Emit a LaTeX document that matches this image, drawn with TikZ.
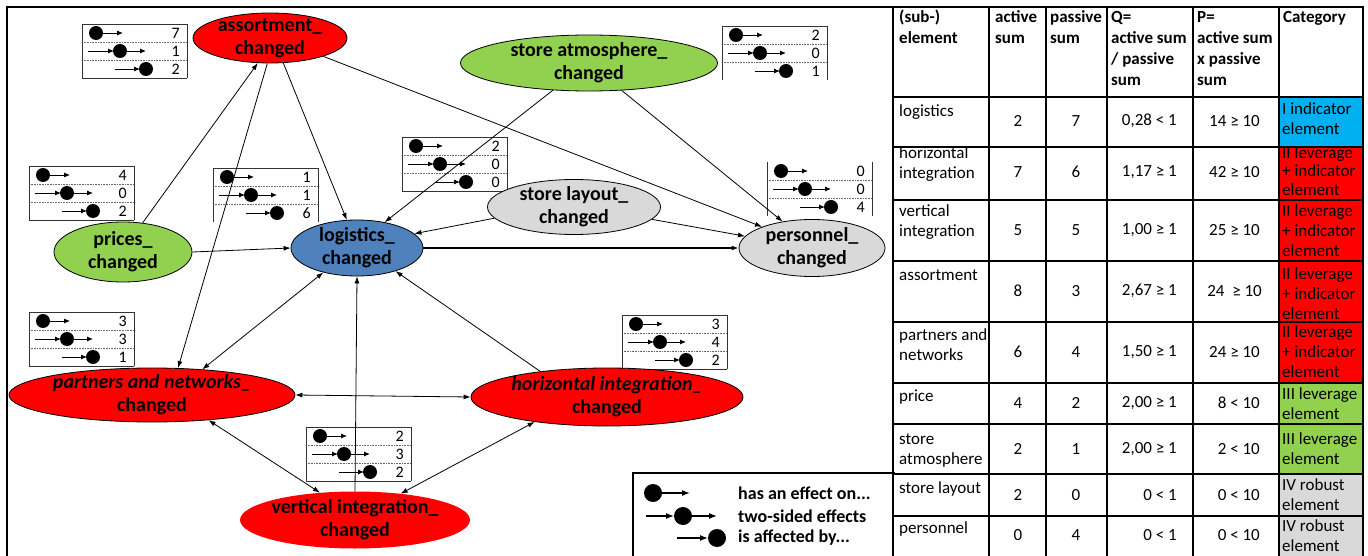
\documentclass[tikz,border=0pt]{standalone}
\usepackage{fontspec}
\setmainfont{Carlito}
\usetikzlibrary{shapes.geometric,arrows.meta}
\definecolor{cred}{HTML}{FF0000}
\definecolor{cgreen}{HTML}{92D050}
\definecolor{cblue}{HTML}{4F81BD}
\definecolor{cgray}{HTML}{D9D9D9}
\definecolor{ccyan}{HTML}{00B0F0}
\newcommand\cbbody[3]{%
  \draw[sepl] (0,18) -- (105,18) (0,36) -- (105,36);
  \draw[bx] (0,0) -- (0,54) (105,0) -- (105,54);
  \fill (14,9) circle[radius=7];
  \draw[sa] (14,9) -- (41,9);
  \draw[sa] (6,27) -- (32,27);
  \fill (38,27) circle[radius=7];
  \draw[sa] (38,27) -- (64,27);
  \draw[sa] (33,45) -- (58,45);
  \fill (64,45) circle[radius=7];
  \node[num] (-n1) at (98,9) {#1};
  \node[num] (-n2) at (98,27) {#2};
  \node[num] (-n3) at (98,45) {#3};
}
\tikzset{
  ell/.style={ellipse, draw=black, line width=0.8pt, inner sep=0pt},
  lbl/.style={font=\bfseries\fontsize{20}{23}\selectfont, align=center, inner sep=0pt},
  ed/.style={line width=0.8pt, -{Latex[length=7pt,width=5pt]}},
  bi/.style={line width=0.8pt, {Latex[length=7pt,width=5pt]}-{Latex[length=7pt,width=5pt]}},
  sepl/.style={densely dotted, black!60, line width=0.6pt},
  bx/.style={line width=0.8pt, black!80},
  sa/.style={line width=0.9pt, -{Latex[length=6pt,width=5pt]}},
  num/.style={anchor=east, inner sep=0pt, font=\fontsize{16}{18}\selectfont},
  pics/cbox/.style n args={3}{code={\cbbody{#1}{#2}{#3}\draw[bx] (0,0) -- (105,0) (0,54) -- (105,54);}},
  pics/cboxnb/.style n args={3}{code={\cbbody{#1}{#2}{#3}\draw[bx] (0,0) -- (105,0);}},
  pics/cboxs/.style n args={3}{code={\cbbody{#1}{#2}{#3}}},
  tc/.style={anchor=north west, inner sep=0pt, align=left, font=\fontsize{17}{20}\selectfont},
  th/.style={tc, font=\bfseries\fontsize{17}{21}\selectfont},
  tn/.style={anchor=center, inner sep=0pt, font=\fontsize{17}{20}\selectfont},
  tr/.style={anchor=east, inner sep=0pt, font=\fontsize{17}{20}\selectfont},
  lg/.style={anchor=west, inner sep=0pt, font=\bfseries\fontsize{18}{22}\selectfont},
  la/.style={line width=1.3pt, -{Latex[length=8pt,width=6pt]}},
}
\newcommand\st{\rule{0pt}{14pt}}
\begin{document}
\begin{tikzpicture}[x=1pt,y=-1pt]
\useasboundingbox (0,0) rectangle (1368,556);
\fill[white] (0,0) rectangle (1368,556);
% frame of the left panel
\draw[line width=1.6pt] (7,556) -- (7,7) -- (893,7);

% count boxes
\pic (bAs) at (82,24) {cbox={7}{1}{2}};
\pic (bPr) at (29,166) {cbox={4}{0}{2}};
\pic (bLo) at (213,168) {cboxnb={1}{1}{6}};
\pic (bLa) at (402,137) {cbox={2}{0}{0}};
\pic (bAt) at (722,26) {cboxnb={2}{0}{1}};
\pic (bPe) at (767,162) {cboxs={0}{0}{4}};
\pic (bPa) at (29,312) {cbox={3}{3}{1}};
\pic (bHo) at (622,315) {cbox={3}{4}{2}};
\pic (bVe) at (306,427) {cbox={2}{3}{2}};

% ellipses
\node[ell, fill=cred, minimum width=154pt, minimum height=50pt] (assort) at (270,38) {};
\node[lbl] (assortT) at (assort.center) {assortment\_\\changed};
\node[ell, fill=cgreen, minimum width=138pt, minimum height=60pt] (prices) at (123,252) {};
\node[lbl] (pricesT) at (prices.center) {prices\_\\changed};
\node[ell, fill=cblue, minimum width=132pt, minimum height=56pt] (logi) at (357,248) {};
\node[lbl] (logiT) at (logi.center) {logistics\_\\changed};
\node[ell, fill=cgreen, minimum width=257pt, minimum height=56pt] (atmos) at (589,63) {};
\node[lbl] (atmosT) at (atmos.center) {store atmosphere\_\\changed};
\node[ell, fill=cgray, minimum width=173pt, minimum height=55pt] (layout) at (574,207) {};
\node[lbl] (layoutT) at (layout.center) {store layout\_\\changed};
\node[ell, fill=cgray, minimum width=146pt, minimum height=57pt] (pers) at (812,248) {};
\node[lbl] (persT) at (pers.center) {personnel\_\\changed};
\node[ell, fill=cred, minimum width=286pt, minimum height=54pt] (partn) at (152,395) {};
\node[lbl] (partnT) at (partn.center) {{\itshape partners and networks\_}\\changed};
\node[ell, fill=cred, minimum width=272pt, minimum height=58pt] (horiz) at (607,397) {};
\node[lbl] (horizT) at (horiz.center) {{\itshape horizontal integration\_}\\changed};
\node[ellipse, fill=cred, inner sep=0pt, minimum width=230pt, minimum height=57pt] (vert) at (355,520) {};
\node[lbl] (vertT) at (vert.center) {vertical integration\_\\changed};

% connectors
\draw[ed] (prices.56) -- (assort.-116);
\draw[ed] (assort.-62) -- (logi.110);
\draw[ed] (assort.-96) -- (partn.46);
\draw[ed] (assort.-19) -- (pers.157);
\draw[ed] (atmos.-143) -- (logi.43);
\draw[ed] (atmos.-40) -- (pers.138);
\draw[ed] (layout.-172) -- (logi.14);
\draw[ed] (layout.-9) -- (pers.170);
\draw[ed, line width=1.6pt] (logi.0) -- (pers.180);
\draw[ed] (prices.0) -- (logi.180);
\draw[bi] (partn.27) -- (logi.-144);
\draw[ed] (vert.90) -- (logi.-90);
\draw[ed] (horiz.159) -- (logi.-31);
\draw[bi] (horiz.180) -- (partn.0);
\draw[bi] (partn.-24) -- (vert.142);
\draw[bi] (vert.30) -- (horiz.-161);

% legend
\draw[line width=2pt] (633,560) -- (633,473) -- (895,473);
\fill (653,493) circle[radius=9];
\draw[la] (653,493) -- (690,493);
\draw[la] (646,516) -- (674,516);
\fill (683,516) circle[radius=9];
\draw[la] (683,516) -- (717,516);
\draw[la] (677,538) -- (708,538);
\fill (717,538) circle[radius=9];
\node[lg] (lg1) at (738,493) {has an effect on...};
\node[lg] (lg2) at (738,516) {two-sided effects};
\node[lg] (lg3) at (738,538) {is affected by...};

% table: category fills
\fill[ccyan] (1279,97) rectangle (1363,147);
\fill[cred] (1279,147) rectangle (1363,383);
\fill[cgreen] (1279,383) rectangle (1363,474);
\fill[cgray] (1279,474) rectangle (1363,560);
% table grid
\draw[line width=1.3pt]
  (989,7) -- (989,560) (1046,7) -- (1046,560) (1107,7) -- (1107,560)
  (1193,7) -- (1193,560) (1279,7) -- (1279,560)
  (893,97) -- (1363,97) (893,147) -- (1363,147) (893,200) -- (1363,200)
  (893,261) -- (1363,261) (893,322) -- (1363,322) (893,383) -- (1363,383)
  (893,424) -- (1363,424) (893,474) -- (1363,474) (893,516) -- (1363,516);
\draw[line width=2pt] (893,560) -- (893,7) -- (1363,7) -- (1363,560);

% header
\node[th] (h1) at (899,8) {\st(sub-)\\element};
\node[th] (h2) at (995,8) {\st active\\sum};
\node[th] (h3) at (1050,8) {\st passive\\sum};
\node[th] (h4) at (1111,8) {\st Q=\\active sum\\/ passive\\sum};
\node[th] (h5) at (1197,8) {\st P=\\active sum\\x passive\\sum};
\node[th] (h6) at (1283,8) {\st Category};

% rows: first column
\node[tc] (e1) at (899,102) {\st logistics};
\node[tc] (e2) at (899,144) {\st horizontal\\integration};
\node[tc] (e3) at (899,202) {\st vertical\\integration};
\node[tc] (e4) at (899,266) {\st assortment};
\node[tc] (e5) at (899,326) {\st partners and\\networks};
\node[tc] (e6) at (899,387) {\st price};
\node[tc] (e7) at (899,430) {\st store\\atmosphere};
\node[tc] (e8) at (899,479) {\st store layout};
\node[tc] (e9) at (899,519) {\st personnel};

% active / passive sums
\node[tn] (a1) at (1018,121) {2};   \node[tn] (p1) at (1076,121) {7};
\node[tn] (a2) at (1018,172) {7};   \node[tn] (p2) at (1076,172) {6};
\node[tn] (a3) at (1018,230) {5};   \node[tn] (p3) at (1076,230) {5};
\node[tn] (a4) at (1018,291) {8};   \node[tn] (p4) at (1076,291) {3};
\node[tn] (a5) at (1018,352) {6};   \node[tn] (p5) at (1076,352) {4};
\node[tn] (a6) at (1018,403) {4};   \node[tn] (p6) at (1076,403) {2};
\node[tn] (a7) at (1018,449) {2};   \node[tn] (p7) at (1076,449) {1};
\node[tn] (a8) at (1018,495) {2};   \node[tn] (p8) at (1076,495) {0};
\node[tn] (a9) at (1018,535) {0};   \node[tn] (p9) at (1076,535) {4};

% Q and P
\node[tr] (q1) at (1177,121) {0,28 < 1};  \node[tr] (r1) at (1260,121) {14 ≥ 10};
\node[tr] (q2) at (1177,172) {1,17 ≥ 1};  \node[tr] (r2) at (1260,172) {42 ≥ 10};
\node[tr] (q3) at (1177,230) {1,00 ≥ 1};  \node[tr] (r3) at (1260,230) {25 ≥ 10};
\node[tr] (q4) at (1177,291) {2,67 ≥ 1};  \node[tr] (r4) at (1262,291) {24\ \ ≥ 10};
\node[tr] (q5) at (1177,352) {1,50 ≥ 1};  \node[tr] (r5) at (1260,352) {24 ≥ 10};
\node[tr] (q6) at (1177,403) {2,00 ≥ 1};  \node[tr] (r6) at (1260,403) {8 < 10};
\node[tr] (q7) at (1177,449) {2,00 ≥ 1};  \node[tr] (r7) at (1260,449) {2 < 10};
\node[tr] (q8) at (1177,495) {0 < 1};     \node[tr] (r8) at (1260,495) {0 < 10};
\node[tr] (q9) at (1177,535) {0 < 1};     \node[tr] (r9) at (1260,535) {0 < 10};

% categories
\node[tc] (k1) at (1282,100) {\st I indicator\\element};
\node[tc, font=\fontsize{17}{18.5}\selectfont] (k2) at (1282,144) {\st II leverage\\+ indicator\\element};
\node[tc] (k3) at (1282,202) {\st II leverage\\+ indicator\\element};
\node[tc] (k4) at (1282,265) {\st II leverage\\+ indicator\\element};
\node[tc] (k5) at (1282,323) {\st II leverage\\+ indicator\\element};
\node[tc] (k6) at (1282,385) {\st III leverage\\element};
\node[tc] (k7) at (1282,430) {\st III leverage\\element};
\node[tc] (k8) at (1282,476) {\st IV robust\\element};
\node[tc] (k9) at (1282,517) {\st IV robust\\element};
\end{tikzpicture}
\end{document}
